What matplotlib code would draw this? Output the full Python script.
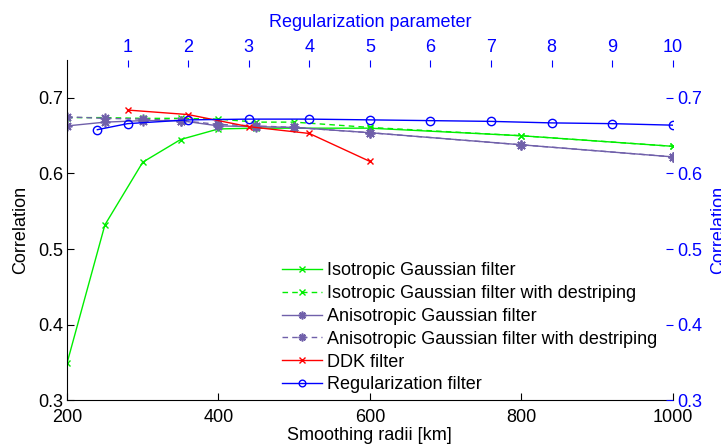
import matplotlib
matplotlib.use('Agg')
import matplotlib.pyplot as plt

plt.rcParams['font.family'] = ['Liberation Sans', 'DejaVu Sans']
plt.rcParams['font.size'] = 13

# smoothing radii [km] for the Gaussian filters
radii = [200, 250, 300, 350, 400, 450, 500, 600, 800, 1000]
iso = [0.349, 0.532, 0.615, 0.645, 0.659, 0.660, 0.660, 0.660, 0.650, 0.636]
iso_destr = [0.674, 0.674, 0.673, 0.673, 0.672, 0.668, 0.668, 0.661, 0.650, 0.636]
aniso = [0.663, 0.668, 0.670, 0.670, 0.663, 0.662, 0.661, 0.654, 0.638, 0.622]
aniso_destr = [0.675, 0.673, 0.672, 0.670, 0.665, 0.663, 0.661, 0.654, 0.638, 0.622]

# DDK filters placed on the radius axis
ddk_radii = [280, 360, 440, 520, 600]
ddk = [0.684, 0.678, 0.662, 0.653, 0.616]

# regularization filter vs. regularization parameter (top axis)
reg_param = [0.5, 1, 2, 3, 4, 5, 6, 7, 8, 9, 10]
reg = [0.658, 0.666, 0.671, 0.672, 0.672, 0.671, 0.670, 0.669, 0.667, 0.666, 0.664]

green = '#00ee00'
purple = '#7060aa'
star = (8, 2, 0)
dash = (0, (4, 3))

fig = plt.figure(figsize=(7.21, 4.46), dpi=100)
ax = fig.add_axes([0.093, 0.103, 0.840, 0.762])

h1, = ax.plot(radii, iso, '-', marker='x', color=green, lw=1.0, ms=5, mew=1.0,
              label='Isotropic Gaussian filter')
h2, = ax.plot(radii, iso_destr, ls=dash, marker='x', color=green, lw=1.0, ms=5,
              mew=1.0, label='Isotropic Gaussian filter with destriping')
h3, = ax.plot(radii, aniso, '-', marker=star, color=purple, lw=1.0, ms=7,
              mew=1.2, label='Anisotropic Gaussian filter')
h4, = ax.plot(radii, aniso_destr, ls=dash, marker=star, color=purple, lw=1.0,
              ms=7, mew=1.2, label='Anisotropic Gaussian filter with destriping')
h5, = ax.plot(ddk_radii, ddk, '-', marker='x', color='red', lw=1.0, ms=5,
              mew=1.0, label='DDK filter')

ax.set_xlim(200, 1000)
ax.set_ylim(0.3, 0.75)
ax.set_xticks([200, 400, 600, 800, 1000])
ax.set_yticks([0.3, 0.4, 0.5, 0.6, 0.7])
ax.tick_params(direction='in', length=5)
ax.tick_params(axis='x', pad=6.5)
ax.tick_params(axis='y', pad=3)
ax.spines['top'].set_visible(False)
ax.spines['right'].set_visible(False)
ax.set_xlabel('Smoothing radii [km]', labelpad=1)
ax.set_ylabel('Correlation', labelpad=6)

# second axes: top x and right y in blue
ax2 = fig.add_axes(ax.get_position(), frameon=False)
h6, = ax2.plot(reg_param, reg, '-o', color='blue', lw=1.0, ms=6, mfc='none',
               mew=1.0, label='Regularization filter')
ax2.set_xlim(0, 10)
ax2.set_ylim(0.3, 0.75)
ax2.set_xticks(range(1, 11))
ax2.set_yticks([0.3, 0.4, 0.5, 0.6, 0.7])
ax2.xaxis.tick_top()
ax2.xaxis.set_label_position('top')
ax2.yaxis.tick_right()
ax2.yaxis.set_label_position('right')
for side in ['top', 'right']:
    ax2.spines[side].set_visible(True)
    ax2.spines[side].set_color('blue')
ax2.spines['left'].set_visible(False)
ax2.spines['bottom'].set_visible(False)
ax2.tick_params(direction='in', length=5, pad=3, colors='blue')
ax2.set_xlabel('Regularization parameter', color='blue', labelpad=9)
ax2.set_ylabel('Correlation', color='blue', labelpad=6)

ax2.legend(handles=[h1, h2, h3, h4, h5, h6], loc='upper left',
           bbox_to_anchor=(0.355, 0.405), frameon=False, borderpad=0,
           handlelength=2.2, handletextpad=0.3, labelspacing=0.32,
           borderaxespad=0, markerscale=0.8)

fig.savefig('out.png', dpi=100)
